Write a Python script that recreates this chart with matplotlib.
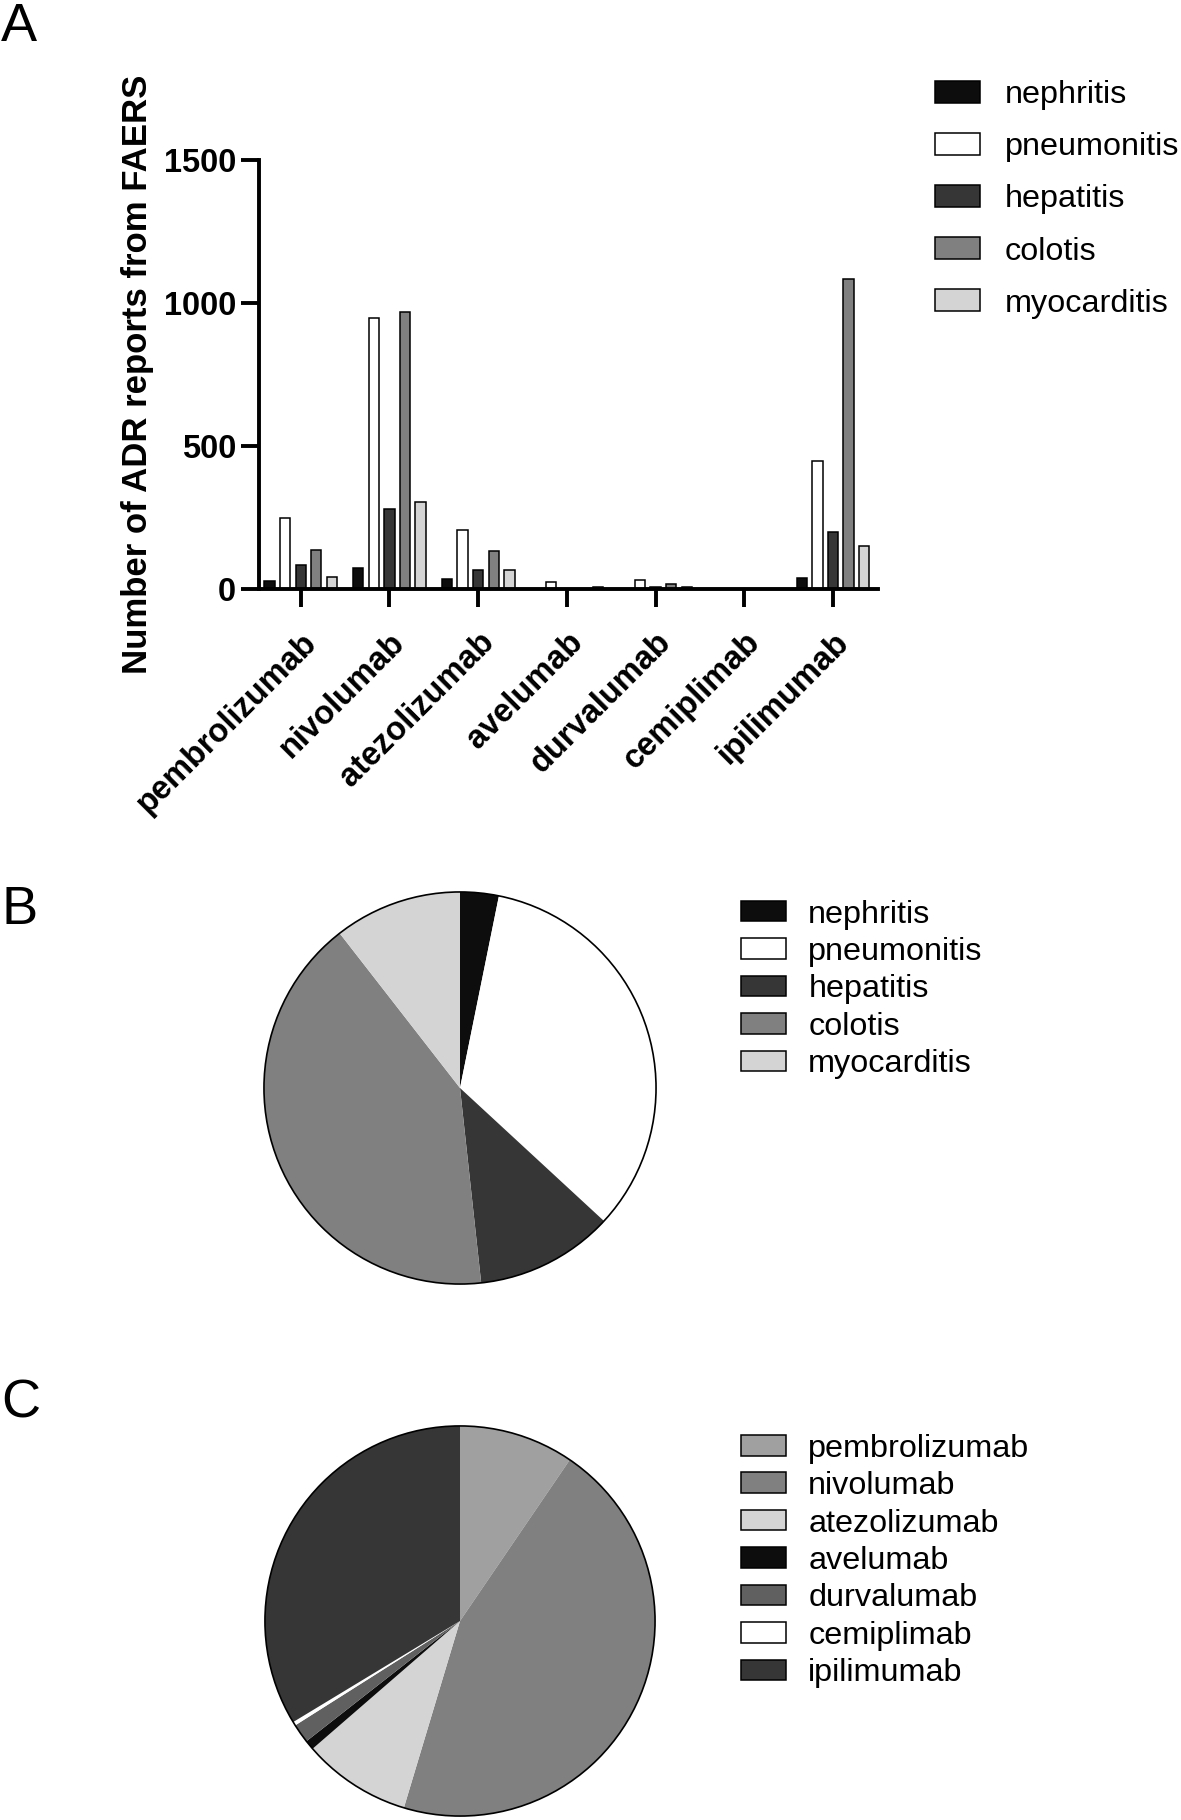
import numpy as np
import matplotlib
matplotlib.use('Agg')
import matplotlib.pyplot as plt
from matplotlib.patches import Circle

plt.rcParams['font.family'] = ['Liberation Sans', 'DejaVu Sans']

drugs = ['pembrolizumab', 'nivolumab', 'atezolizumab', 'avelumab',
         'durvalumab', 'cemiplimab', 'ipilimumab']
adrs = ['nephritis', 'pneumonitis', 'hepatitis', 'colotis', 'myocarditis']

# reports per drug (A), one list per ADR
nephritis = [27, 72, 36, 0, 0, 0, 38]
pneumonitis = [247, 949, 206, 25, 33, 0, 448]
hepatitis = [84, 279, 65, 0, 8, 0, 200]
colotis = [137, 970, 133, 0, 17, 0, 1084]
myocarditis = [42, 305, 65, 8, 7, 0, 152]

# pie totals (B: by ADR, C: by drug)
adr_totals = [180, 1905, 645, 2330, 595]
drug_totals = [540, 2560, 510, 45, 90, 18, 1910]

adr_colors = ['#0d0d0d', 'white', '#363636', '#808080', '#d4d4d4']
drug_colors = ['#a0a0a0', '#808080', '#d4d4d4', '#0d0d0d', '#606060', 'white', '#363636']

W, H = 1181, 1820
fig = plt.figure(figsize=(W / 100, H / 100), dpi=100)


def px_axes(x0, y0, x1, y1):
    # axes from pixel box (top-left origin)
    return fig.add_axes([x0 / W, 1 - y1 / H, (x1 - x0) / W, (y1 - y0) / H])


# ---- A: grouped bars
ax = px_axes(259, 160, 878, 589)
series = [nephritis, pneumonitis, hepatitis, colotis, myocarditis]
x = np.arange(len(drugs))
step = 0.176
for i, vals in enumerate(series):
    ax.bar(x + (i - 2) * step, vals, width=0.117, color=adr_colors[i],
           edgecolor='black', linewidth=1.1, label=adrs[i])
ax.set_xlim(-0.47, 6.508)
ax.set_ylim(0, 1500)
ax.set_yticks([0, 500, 1000, 1500])
ax.set_xticks(x)
ax.set_xticklabels(drugs, rotation=45, ha='right', va='top',
                   rotation_mode='anchor', fontweight='bold', fontsize=23.5)
for lab in ax.get_yticklabels():
    lab.set_fontweight('bold')
ax.tick_params(axis='y', labelsize=23.5, length=13, width=2.8, pad=3.5)
ax.tick_params(axis='x', length=13, width=2.8, pad=14)
for s in ['top', 'right']:
    ax.spines[s].set_visible(False)
for s in ['left', 'bottom']:
    ax.spines[s].set_linewidth(2.8)
ax.set_ylabel('Number of ADR reports from FAERS', fontsize=25,
              fontweight='bold', labelpad=7)
ax.legend(loc='center left', bbox_to_anchor=(935 / W, 1 - 199.5 / H),
          bbox_transform=fig.transFigure, frameon=False, fontsize=23.3,
          handlelength=1.38, handleheight=0.69, handletextpad=0.78,
          labelspacing=0.68, borderpad=0, borderaxespad=0)

# ---- B / C: pies
def draw_pie(cx, cy, r, vals, cols, labels, leg_y):
    pax = px_axes(cx - r, cy - r, cx + r, cy + r)
    wedges, _ = pax.pie(vals, colors=cols, startangle=90, counterclock=False,
                        radius=1, wedgeprops=dict(linewidth=0))
    pax.add_patch(Circle((0, 0), 1, fill=False, edgecolor='black', linewidth=1.2))
    pax.set_xlim(-1.01, 1.01)
    pax.set_ylim(-1.01, 1.01)
    pax.set_aspect('equal')
    pax.axis('off')
    handles = [plt.Rectangle((0, 0), 1, 1, facecolor=c, edgecolor='black',
                             linewidth=1.1) for c in cols]
    fig.legend(handles, labels, loc='center left',
               bbox_to_anchor=(741 / W, 1 - leg_y / H), frameon=False,
               fontsize=23.3, handlelength=1.38, handleheight=0.6,
               handletextpad=0.7, labelspacing=0.23, borderpad=0,
               borderaxespad=0)


draw_pie(460, 1088, 198, adr_totals, adr_colors, adrs, 989.5)
draw_pie(460, 1621, 197, drug_totals, drug_colors, drugs, 1561)

for lab, ytop in [('A', 2), ('B', 885), ('C', 1378)]:
    fig.text(1 / W, 1 - ytop / H, lab, fontsize=39, ha='left', va='top')

fig.savefig('out.png', dpi=100, facecolor='white')
